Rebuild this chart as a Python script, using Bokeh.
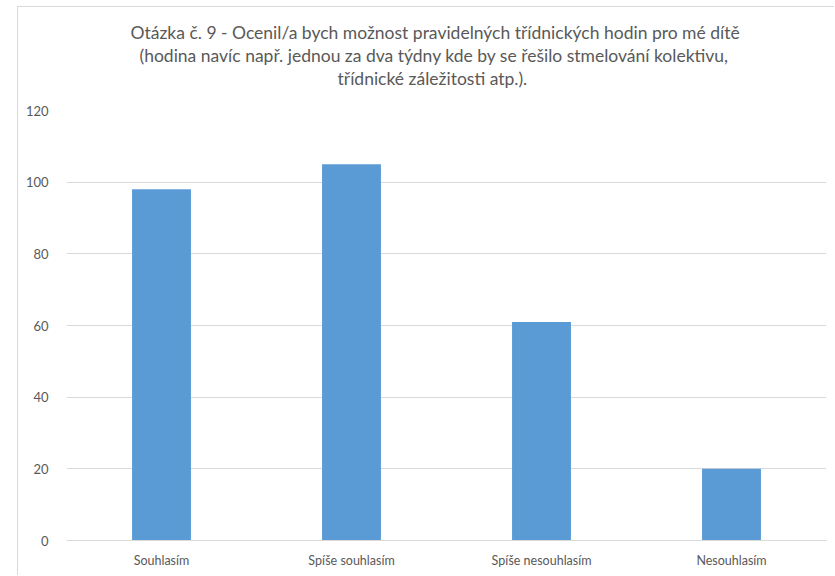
from bokeh.plotting import figure
from bokeh.models import FactorRange, Range1d, Title, FixedTicker, ColumnDataSource
from bokeh.embed import file_html
from bokeh.resources import INLINE

categories = ["Souhlasím", "Spíše souhlasím", "Spíše nesouhlasím", "Nesouhlasím"]
values = [98, 105, 61, 20]
y_ticks = [0, 20, 40, 60, 80, 100, 120]
title_lines = [
    "Otázka č. 9 - Ocenil/a bych možnost pravidelných třídnických hodin pro mé dítě",
    "(hodina navíc např. jednou za dva týdny kde by se řešilo stmelování kolektivu,",
    "třídnické záležitosti atp.).",
]

FONT = "Lato"
TXT = "#595959"
GRID = "#d9d9d9"

p = figure(width=817, height=569, output_backend="svg", toolbar_location=None,
           x_range=FactorRange(*categories, range_padding=0), y_range=Range1d(0, 120),
           min_border_left=48, min_border_right=9, min_border_bottom=36, min_border_top=103)

src = ColumnDataSource(dict(cat=categories, val=values))
p.vbar(x="cat", top="val", width=0.31, source=src, fill_color="#5B9BD5", line_color=None)

# spacer between the title block and the plot area (added first = nearest the plot)
p.add_layout(Title(text=" ", text_font_size="1px", standoff=19), "above")

# title lines: outermost added last
title_offsets = [64, 73, 271]
for line, off in reversed(list(zip(title_lines, title_offsets))):
    p.add_layout(Title(text=line, align="left", offset=off, standoff=0,
                       text_font=FONT, text_font_size="17.5px", text_font_style="normal",
                       text_line_height=1.1, text_color=TXT), "above")

p.outline_line_color = None
p.background_fill_color = "white"
p.border_fill_color = "white"

p.yaxis.ticker = FixedTicker(ticks=y_ticks)
p.yaxis.axis_line_color = None
p.yaxis.major_tick_line_color = None
p.yaxis.minor_tick_line_color = None
p.yaxis.major_label_standoff = 12
p.yaxis.major_label_text_font = FONT
p.yaxis.major_label_text_font_size = "13px"
p.yaxis.major_label_text_color = TXT

p.xaxis.axis_line_color = GRID
p.xaxis.major_tick_line_color = None
p.xaxis.minor_tick_line_color = None
p.xaxis.major_label_standoff = 6
p.xaxis.major_label_text_font = FONT
p.xaxis.major_label_text_font_size = "12.5px"
p.xaxis.major_label_text_color = TXT

p.xgrid.grid_line_color = None
p.ygrid.grid_line_color = GRID
p.ygrid.grid_line_width = 1

p.styles = {"margin-left": "17px", "margin-top": "6px",
            "border-left": "1px solid #d9d9d9", "border-top": "1px solid #d9d9d9"}

open("out.html", "w").write(file_html(p, INLINE))
